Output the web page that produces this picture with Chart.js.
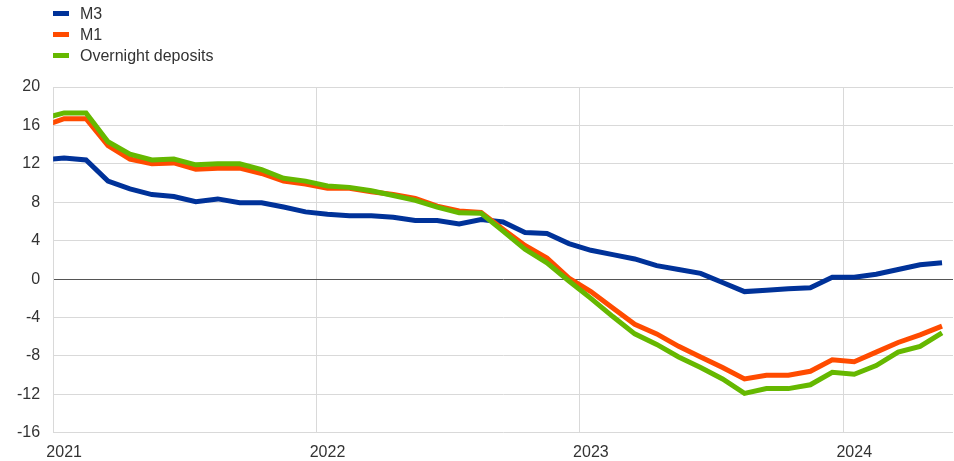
<!DOCTYPE html>
<html>
<head>
<meta charset="utf-8">
<script src="https://cdn.jsdelivr.net/npm/chart.js@4.4.1/dist/chart.umd.min.js"></script>
<style>
  body { margin: 0; background: #fff; font-family: 'Liberation Sans', Arial, sans-serif; }
  #wrap { position: relative; width: 954px; height: 461px; }
  #legend { position: absolute; left: 53px; top: 3px; margin: 0; padding: 0; list-style: none; }
  #legend li { display: flex; align-items: center; height: 21px; font-size: 16px; color: #333; }
  #legend .sw { display: inline-block; width: 16px; height: 5px; margin-right: 11px; }
</style>
</head>
<body>
<div id="wrap">
  <canvas id="chart" width="954" height="461"></canvas>
  <ul id="legend"></ul>
</div>
<script>
// monthly observations, Dec 2020 (clipped at the left edge) to May 2024
const months = [
    '2020-12',
    '2021-01', '2021-02', '2021-03', '2021-04', '2021-05', '2021-06',
    '2021-07', '2021-08', '2021-09', '2021-10', '2021-11', '2021-12',
    '2022-01', '2022-02', '2022-03', '2022-04', '2022-05', '2022-06',
    '2022-07', '2022-08', '2022-09', '2022-10', '2022-11', '2022-12',
    '2023-01', '2023-02', '2023-03', '2023-04', '2023-05', '2023-06',
    '2023-07', '2023-08', '2023-09', '2023-10', '2023-11', '2023-12',
    '2024-01', '2024-02', '2024-03', '2024-04', '2024-05',
];

const m3 = [
    12.4,
    12.6, 12.4, 10.2, 9.4, 8.8, 8.6, 8.05, 8.35, 7.95, 7.95, 7.5, 7.0,
    6.75, 6.6, 6.6, 6.45, 6.1, 6.1, 5.75, 6.2, 5.95, 4.85, 4.75, 3.7,
    3.0, 2.55, 2.1, 1.4, 1.0, 0.6, -0.35, -1.3, -1.15, -1.0, -0.9, 0.2,
    0.2, 0.5, 1.0, 1.5, 1.7,
];
const m1 = [
    15.9,
    16.7, 16.7, 13.9, 12.5, 12.0, 12.1, 11.45, 11.55, 11.55, 11.0, 10.2, 9.9,
    9.45, 9.45, 9.1, 8.8, 8.4, 7.6, 7.1, 6.95, 5.2, 3.5, 2.2, 0.1,
    -1.3, -3.0, -4.7, -5.7, -7.0, -8.1, -9.2, -10.4, -10.0, -10.0, -9.6, -8.4,
    -8.6, -7.6, -6.6, -5.8, -4.9,
];
const overnight = [
    16.7,
    17.3, 17.3, 14.3, 13.0, 12.4, 12.5, 11.9, 12.0, 12.0, 11.4, 10.5, 10.2,
    9.7, 9.55, 9.2, 8.7, 8.2, 7.5, 6.9, 6.85, 5.0, 3.1, 1.7, -0.2,
    -2.0, -3.9, -5.7, -6.8, -8.1, -9.2, -10.4, -11.9, -11.4, -11.4, -11.0, -9.7,
    -9.9, -9.0, -7.6, -7.0, -5.6,
];

const yearLabels = ['2021', '2022', '2023', '2024'];
const yTicks = [-16, -12, -8, -4, 0, 4, 8, 12, 16, 20];

// month position on the x axis, 0 = 1 Jan 2021, points sit mid-month
const monthPos = (s) => {
    const [y, m] = s.split('-').map(Number);
    return (y - 2021) * 12 + (m - 1) + 0.5;
};
const toPoints = (vals) => vals.map((v, i) => ({ x: monthPos(months[i]), y: v }));

const series = [
    { label: 'M3', data: m3, color: '#003299', order: 3 },
    { label: 'M1', data: m1, color: '#ff4b00', order: 2 },
    { label: 'Overnight deposits', data: overnight, color: '#65b800', order: 1 },
];

const legend = document.getElementById('legend');
series.forEach(s => {
    const li = document.createElement('li');
    li.innerHTML = '<span class="sw" style="background:' + s.color + '"></span>' + s.label;
    legend.appendChild(li);
});

Chart.defaults.font.family = "'Liberation Sans', Arial, sans-serif";
Chart.defaults.color = '#333';

const ctx = document.getElementById('chart').getContext('2d');
new Chart(ctx, {
    type: 'line',
    data: {
        datasets: series.map(s => ({
            label: s.label,
            data: toPoints(s.data),
            borderColor: s.color,
            backgroundColor: s.color,
            borderWidth: 5,
            pointRadius: 0,
            tension: 0,
            order: s.order,
            clip: 0,
        })),
    },
    options: {
        responsive: false,
        animation: false,
        devicePixelRatio: 1,
        layout: { padding: { top: 87, left: 4, right: 1, bottom: -11 } },
        plugins: { legend: { display: false }, tooltip: { enabled: false } },
        scales: {
            x: {
                type: 'linear',
                min: 0,
                max: months.length - 1,
                afterBuildTicks: (scale) => {
                    scale.ticks = yearLabels.map((_, i) => ({ value: i * 12 }));
                },
                ticks: {
                    font: { size: 16 },
                    padding: 10,
                    labelOffset: 11,
                    maxRotation: 0,
                    callback: (v) => yearLabels[v / 12],
                },
                grid: { color: '#d9d9d9', drawTicks: false },
                border: { display: false },
            },
            y: {
                min: -16,
                max: 20,
                afterBuildTicks: (scale) => {
                    scale.ticks = yTicks.map(v => ({ value: v }));
                },
                ticks: { font: { size: 16 }, padding: 13 },
                grid: {
                    color: (c) => c.tick && c.tick.value === 0 ? '#555' : '#d9d9d9',
                    drawTicks: false,
                },
                border: { color: '#d9d9d9' },
            },
        },
    },
});
</script>
</body>
</html>
